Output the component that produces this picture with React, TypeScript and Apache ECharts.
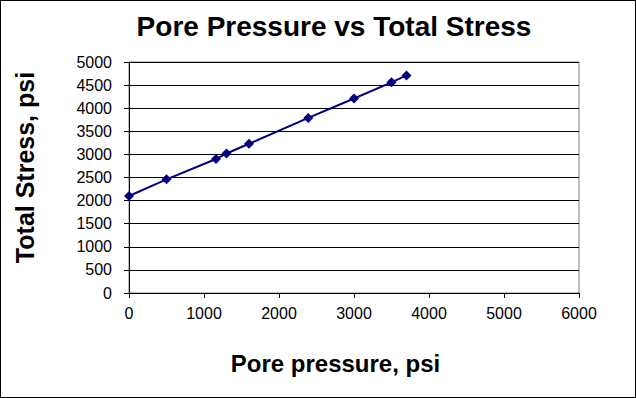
import React, { useEffect, useRef } from "react";
import * as echarts from "echarts";

const porePressure = [0, 500, 1160, 1300, 1600, 2390, 3000, 3500, 3700];
const totalStress = [2100, 2460, 2900, 3020, 3230, 3790, 4210, 4560, 4710];
const titleText = "Pore Pressure vs Total Stress";
const xName = "Pore pressure, psi";
const yName = "Total Stress, psi";

export default function App() {
  const ref = useRef<HTMLDivElement>(null);
  useEffect(() => {
    document.body.style.margin = "0";
    const chart = echarts.init(ref.current!, null, { renderer: "svg" });
    const font = "Liberation Sans, Arial, sans-serif";
    chart.setOption({
      animation: false,
      backgroundColor: "#fff",
      title: {
        text: titleText,
        left: 328,
        textAlign: "center",
        top: 6,
        textStyle: { fontFamily: font, fontWeight: "bold", fontSize: 28, color: "#000" },
      },
      grid: {
        left: 128,
        top: 61,
        right: 56,
        bottom: 104,
        show: true,
        borderColor: "#808080",
        borderWidth: 1,
      },
      xAxis: {
        type: "value",
        min: 0,
        max: 6000,
        interval: 1000,
        name: xName,
        nameLocation: "middle",
        nameGap: 58,
        nameTextStyle: { fontFamily: font, fontWeight: "bold", fontSize: 24, color: "#000", padding: [0, 37, 0, 0] },
        axisLine: { show: true, lineStyle: { color: "#000", width: 1 } },
        axisTick: { show: true, length: 5, lineStyle: { color: "#000" } },
        axisLabel: { fontFamily: font, fontSize: 16, color: "#000", margin: 12, formatter: (v: number) => String(v) },
        splitLine: { show: false },
      },
      yAxis: {
        type: "value",
        min: 0,
        max: 5000,
        interval: 500,
        name: yName,
        nameLocation: "middle",
        nameGap: 92,
        nameRotate: 90,
        nameTextStyle: { fontFamily: font, fontWeight: "bold", fontSize: 25, color: "#000", padding: [0, 0, 0, 20] },
        axisLine: { show: true, lineStyle: { color: "#000", width: 1 } },
        axisTick: { show: true, length: 5, lineStyle: { color: "#000" } },
        axisLabel: { fontFamily: font, fontSize: 16, color: "#000", margin: 17, formatter: (v: number) => String(v) },
        splitLine: { show: true, lineStyle: { color: "#000", width: 1 } },
      },
      series: [
        {
          type: "line",
          data: porePressure.map((x, i) => [x, totalStress[i]]),
          symbol: "diamond",
          symbolSize: 10,
          itemStyle: { color: "#000080" },
          lineStyle: { color: "#000080", width: 2 },
        },
      ],
    });
    return () => chart.dispose();
  }, []);
  return (
    <div
      ref={ref}
      style={{
        position: "absolute",
        left: 0,
        top: 0,
        width: 636,
        height: 398,
        boxSizing: "border-box",
        border: "1px solid #000",
      }}
    />
  );
}
